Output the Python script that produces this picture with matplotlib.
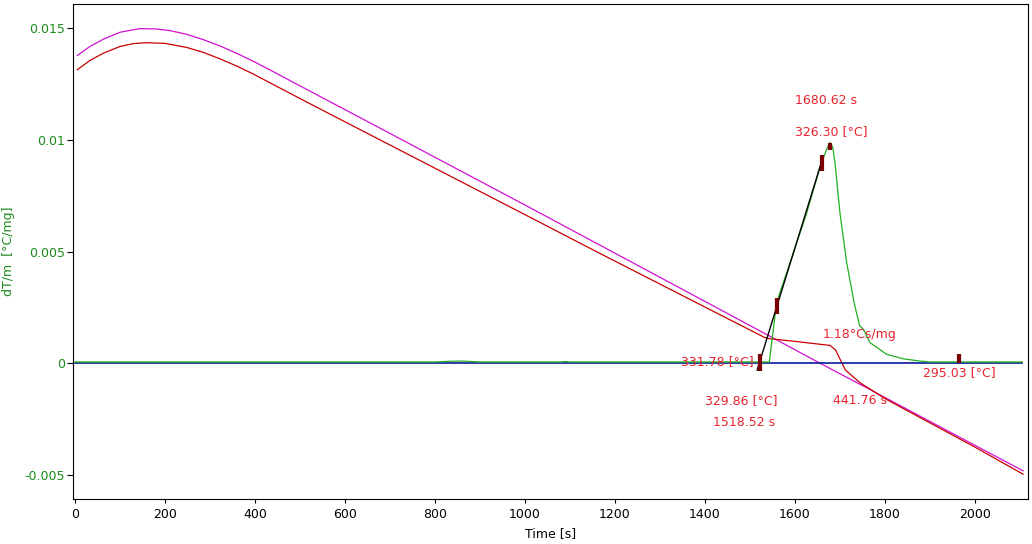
import matplotlib
matplotlib.use("Agg")
import matplotlib.pyplot as plt

plt.rcParams.update({
    "font.family": "DejaVu Sans",
    "font.size": 9,
})

# curves (time [s], dT/m [°C/mg])
magenta_t = [5, 33, 63, 100, 144, 181, 211, 248, 285, 322, 359, 396, 433, 507, 633, 1000, 1181,
             1537, 1656, 1800, 2000, 2107]
magenta_y = [0.013765, 0.014167, 0.014494, 0.014807, 0.01497, 0.014955, 0.014881, 0.014717,
             0.014479, 0.014196, 0.013869, 0.013512, 0.013125, 0.012336, 0.010997, 0.00708,
             0.00513, 0.00129, 0.0, -0.00153, -0.00367, -0.00481]

red_t = [5, 33, 63, 100, 130, 159, 200, 248, 285, 322, 359, 396, 433, 507, 633, 1000, 1167, 1533,
         1544, 1600, 1678, 1690, 1704, 1712, 1744, 1800, 2000, 2107]
red_y = [0.01313, 0.01354, 0.01387, 0.01417, 0.01430, 0.01434, 0.01431, 0.01413, 0.01391, 0.01362,
         0.0133, 0.01294, 0.01255, 0.01177, 0.01046, 0.00665, 0.00491, 0.00115, 0.0011, 0.00098,
         0.0008, 0.0006, 0.00003, -0.0003, -0.00086, -0.00158, -0.00375, -0.00496]

green_t = [0, 800, 833, 860, 900, 1080, 1090, 1100, 1543, 1552, 1559, 1589, 1626, 1656, 1670,
           1678, 1684, 1689, 1700, 1715, 1733, 1744, 1752, 1767, 1804, 1841, 1878, 1900, 2105]
green_y = [0.00006, 0.00006, 0.00009, 0.0001, 0.00006, 0.00006, 0.00008, 0.00006, 0.00006,
           0.00152, 0.00271, 0.00449, 0.00672, 0.00881, 0.00955, 0.00988, 0.00965, 0.00896,
           0.00672, 0.00449, 0.00256, 0.00167, 0.00152, 0.00092, 0.0004, 0.0002, 0.0001,
           0.00006, 0.00006]

base_t = [0, 2105]
base_y = [0.0, 0.0]

tangent_t = [1516, 1662]
tangent_y = [-0.0003, 0.0092]

# small vertical markers: time, low, high
mark_t = [1522, 1559, 1659, 1678, 1965]
mark_lo = [-0.00035, 0.00219, 0.00859, 0.00955, 0.00003]
mark_hi = [0.0004, 0.00294, 0.00933, 0.00985, 0.0004]

labels = ["1680.62 s", "326.30 [°C]", "1.18°Cs/mg", "331.78 [°C]",
          "329.86 [°C]", "1518.52 s", "441.76 s", "295.03 [°C]"]
label_t = [1600, 1600, 1661, 1346, 1401, 1417, 1685, 1885]
label_y = [0.01176, 0.01036, 0.00129, 0.0001, -0.00166, -0.00265, -0.00166, -0.00042]

yticks = [-0.005, 0, 0.005, 0.01, 0.015]
ytick_labels = ["-0.005", "0", "0.005", "0.01", "0.015"]
xticks = list(range(0, 2001, 200))

green_txt = "#1a8a1a"
ann_red = "#e8222e"

fig = plt.figure(figsize=(10.32, 5.44), dpi=100)
ax = fig.add_axes([0.0707, 0.0827, 0.9255, 0.9099])

ax.plot(magenta_t, magenta_y, color="#d010d0", lw=0.9, zorder=2)
ax.plot(red_t, red_y, color="#c80000", lw=0.9, zorder=3)
ax.plot(base_t, base_y, color="#0a1a9a", lw=1.2, zorder=3.5)
ax.plot(green_t, green_y, color="#20b020", lw=0.9, zorder=4)
ax.plot(tangent_t, tangent_y, color="black", lw=1.0, zorder=5)
ax.vlines(mark_t, mark_lo, mark_hi, color="#7a0000", lw=3, zorder=6)

for txt, tx, ty in zip(labels, label_t, label_y):
    ax.text(tx, ty, txt, color=ann_red, fontsize=9, ha="left", va="center", zorder=7)

ax.set_xlim(-4.4, 2118)
ax.set_ylim(-0.00607, 0.01607)
ax.set_xticks(xticks)
ax.set_yticks(yticks)
ax.set_yticklabels(ytick_labels)
ax.tick_params(axis="y", colors="black", labelcolor=green_txt, direction="out", length=4, pad=1.5)
ax.tick_params(axis="x", direction="out", length=3)
ax.set_xlabel("Time [s]", fontsize=9, labelpad=4)
ax.set_ylabel("dT/m  [°C/mg]", fontsize=9, color=green_txt)
ax.yaxis.set_label_coords(-0.0607, 0.5)

fig.savefig("out.png", dpi=100)
